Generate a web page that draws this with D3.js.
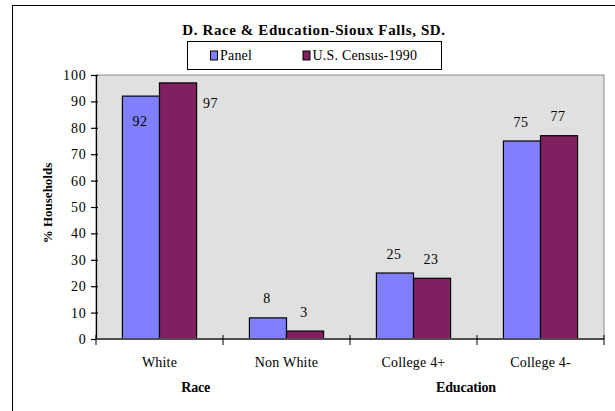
<!DOCTYPE html>
<html>
<head>
<meta charset="utf-8">
<script src="https://cdn.jsdelivr.net/npm/d3@7"></script>
<style>
  html, body { margin: 0; padding: 0; background: #fff; }
  svg { display: block; }
</style>
</head>
<body>
<svg id="chart" width="615" height="411"></svg>
<script>
// Household race and education shares, Sioux Falls panel vs. 1990 census
const categories = ["White", "Non White", "College 4+", "College 4-"];
const seriesNames = ["Panel", "U.S. Census-1990"];
const panelValues = [92, 8, 25, 75];
const censusValues = [97, 3, 23, 77];
const yTicks = [0, 10, 20, 30, 40, 50, 60, 70, 80, 90, 100];
const groups = [
  { name: "Race", first: "White", offset: 0.785 },
  { name: "Education", first: "College 4+", offset: 0.913 }
];

const colors = ["#8080ff", "#802060"];
const FONT = "Liberation Serif";
const svg = d3.select("#chart");

// outer chart frame
svg.append("rect")
  .attr("x", 12.5).attr("y", 5.5)
  .attr("width", 700).attr("height", 500)
  .attr("fill", "#fff").attr("stroke", "#000").attr("stroke-width", 1);

const plot = { left: 96, right: 604, top: 75, bottom: 339 };

const x = d3.scaleBand().domain(categories).range([plot.left, plot.right]);
const bw = x.bandwidth();
const barW = bw * 0.292;
const xs = d3.scaleBand().domain(seriesNames).range([0, 2 * barW]);
const y = d3.scaleLinear().domain([0, 100]).range([plot.bottom, plot.top]);

// plot area
svg.append("rect")
  .attr("x", plot.left).attr("y", plot.top)
  .attr("width", plot.right - plot.left).attr("height", plot.bottom - plot.top)
  .attr("fill", "#e0e0e0").attr("stroke", "#8a8a8a").attr("stroke-width", 1);

// bars
const rows = categories.map((c, i) => ({ cat: c, vals: [panelValues[i], censusValues[i]] }));
const gBars = svg.append("g");
rows.forEach(r => {
  const gx = x(r.cat) + (bw - 2 * barW) / 2;
  r.vals.forEach((v, si) => {
    gBars.append("rect")
      .attr("x", gx + xs(seriesNames[si]))
      .attr("y", y(v))
      .attr("width", xs.bandwidth())
      .attr("height", y(0) - y(v))
      .attr("fill", colors[si])
      .attr("stroke", "#000").attr("stroke-width", 1.2);
  });
});

// value labels; those that would run past the plot top go inside (first series) or beside (second)
rows.forEach(r => {
  const gx = x(r.cat) + (bw - 2 * barW) / 2;
  r.vals.forEach((v, si) => {
    const cx = gx + xs(seriesNames[si]) + xs.bandwidth() / 2 - 1;
    let ly = y(v) - 14.5;
    let lx = cx;
    if (ly - 10 < plot.top) {
      if (si === 0) { ly = y(v) + 30; }
      else { ly = y(v) + 25; lx = cx + xs.bandwidth() * 0.9; }
    }
    svg.append("text").attr("x", lx).attr("y", ly)
      .attr("font-family", FONT).attr("font-size", 14)
      .attr("letter-spacing", "0.5px")
      .attr("text-anchor", "middle").attr("fill", "#000").text(v);
  });
});

// y axis with ticks crossing the axis line
const yAxis = d3.axisLeft(y).tickValues(yTicks).tickSize(5).tickPadding(4.5);
const gy = svg.append("g").attr("transform", `translate(${plot.left},0)`).call(yAxis);
gy.select(".domain").attr("stroke", "#000").attr("stroke-width", 1.2);
gy.selectAll(".tick line").attr("x1", 2).attr("stroke", "#000").attr("stroke-width", 1.2);
gy.selectAll(".tick text").attr("font-family", FONT).attr("font-size", 14)
  .attr("letter-spacing", "0.8px").attr("fill", "#000");

// x axis baseline with crossing ticks at band boundaries
svg.append("line")
  .attr("x1", plot.left).attr("x2", plot.right)
  .attr("y1", plot.bottom).attr("y2", plot.bottom)
  .attr("stroke", "#505050").attr("stroke-width", 2);
const bounds = categories.map(c => x(c)).concat([x.range()[1]]);
svg.append("g").selectAll("line").data(bounds).join("line")
  .attr("x1", d => d).attr("x2", d => d)
  .attr("y1", plot.bottom - 4).attr("y2", plot.bottom + 6)
  .attr("stroke", "#000").attr("stroke-width", 1);

// category labels
svg.append("g").selectAll("text").data(categories).join("text")
  .attr("x", d => x(d) + bw / 2)
  .attr("y", 367)
  .attr("text-anchor", "middle")
  .attr("font-family", FONT)
  .attr("font-size", 14)
  .attr("letter-spacing", "0.2px")
  .text(d => d);

// group labels
svg.append("g").selectAll("text").data(groups).join("text")
  .attr("x", d => x(d.first) + bw * d.offset)
  .attr("y", 392)
  .attr("text-anchor", "middle")
  .attr("font-family", FONT)
  .attr("font-size", 14)
  .attr("font-weight", "bold")
  .attr("letter-spacing", "-0.2px")
  .text(d => d.name);

// y axis title
svg.append("text")
  .attr("transform", `translate(52,203) rotate(-90)`)
  .attr("text-anchor", "middle")
  .attr("font-family", FONT)
  .attr("font-size", 13)
  .attr("font-weight", "bold")
  .text("% Households");

// title
svg.append("text")
  .attr("x", 314).attr("y", 35)
  .attr("text-anchor", "middle")
  .attr("font-family", FONT)
  .attr("font-size", 15)
  .attr("font-weight", "bold")
  .attr("letter-spacing", "0.6px")
  .text("D.  Race & Education-Sioux Falls, SD.");

// legend
const lg = svg.append("g").attr("transform", "translate(187.5,41.5)");
lg.append("rect").attr("width", 254).attr("height", 28)
  .attr("fill", "#fff").attr("stroke", "#000").attr("stroke-width", 1);
const legendX = [23, 115.5];
seriesNames.forEach((s, i) => {
  const it = lg.append("g").attr("transform", `translate(${legendX[i]},0)`);
  it.append("rect").attr("x", 0).attr("y", 9.5).attr("width", 7).attr("height", 9)
    .attr("fill", colors[i]).attr("stroke", "#000").attr("stroke-width", 1);
  it.append("text").attr("x", 9.5).attr("y", 18)
    .attr("font-family", FONT)
    .attr("font-size", 14).attr("letter-spacing", "0.2px").text(s);
});
</script>
</body>
</html>
